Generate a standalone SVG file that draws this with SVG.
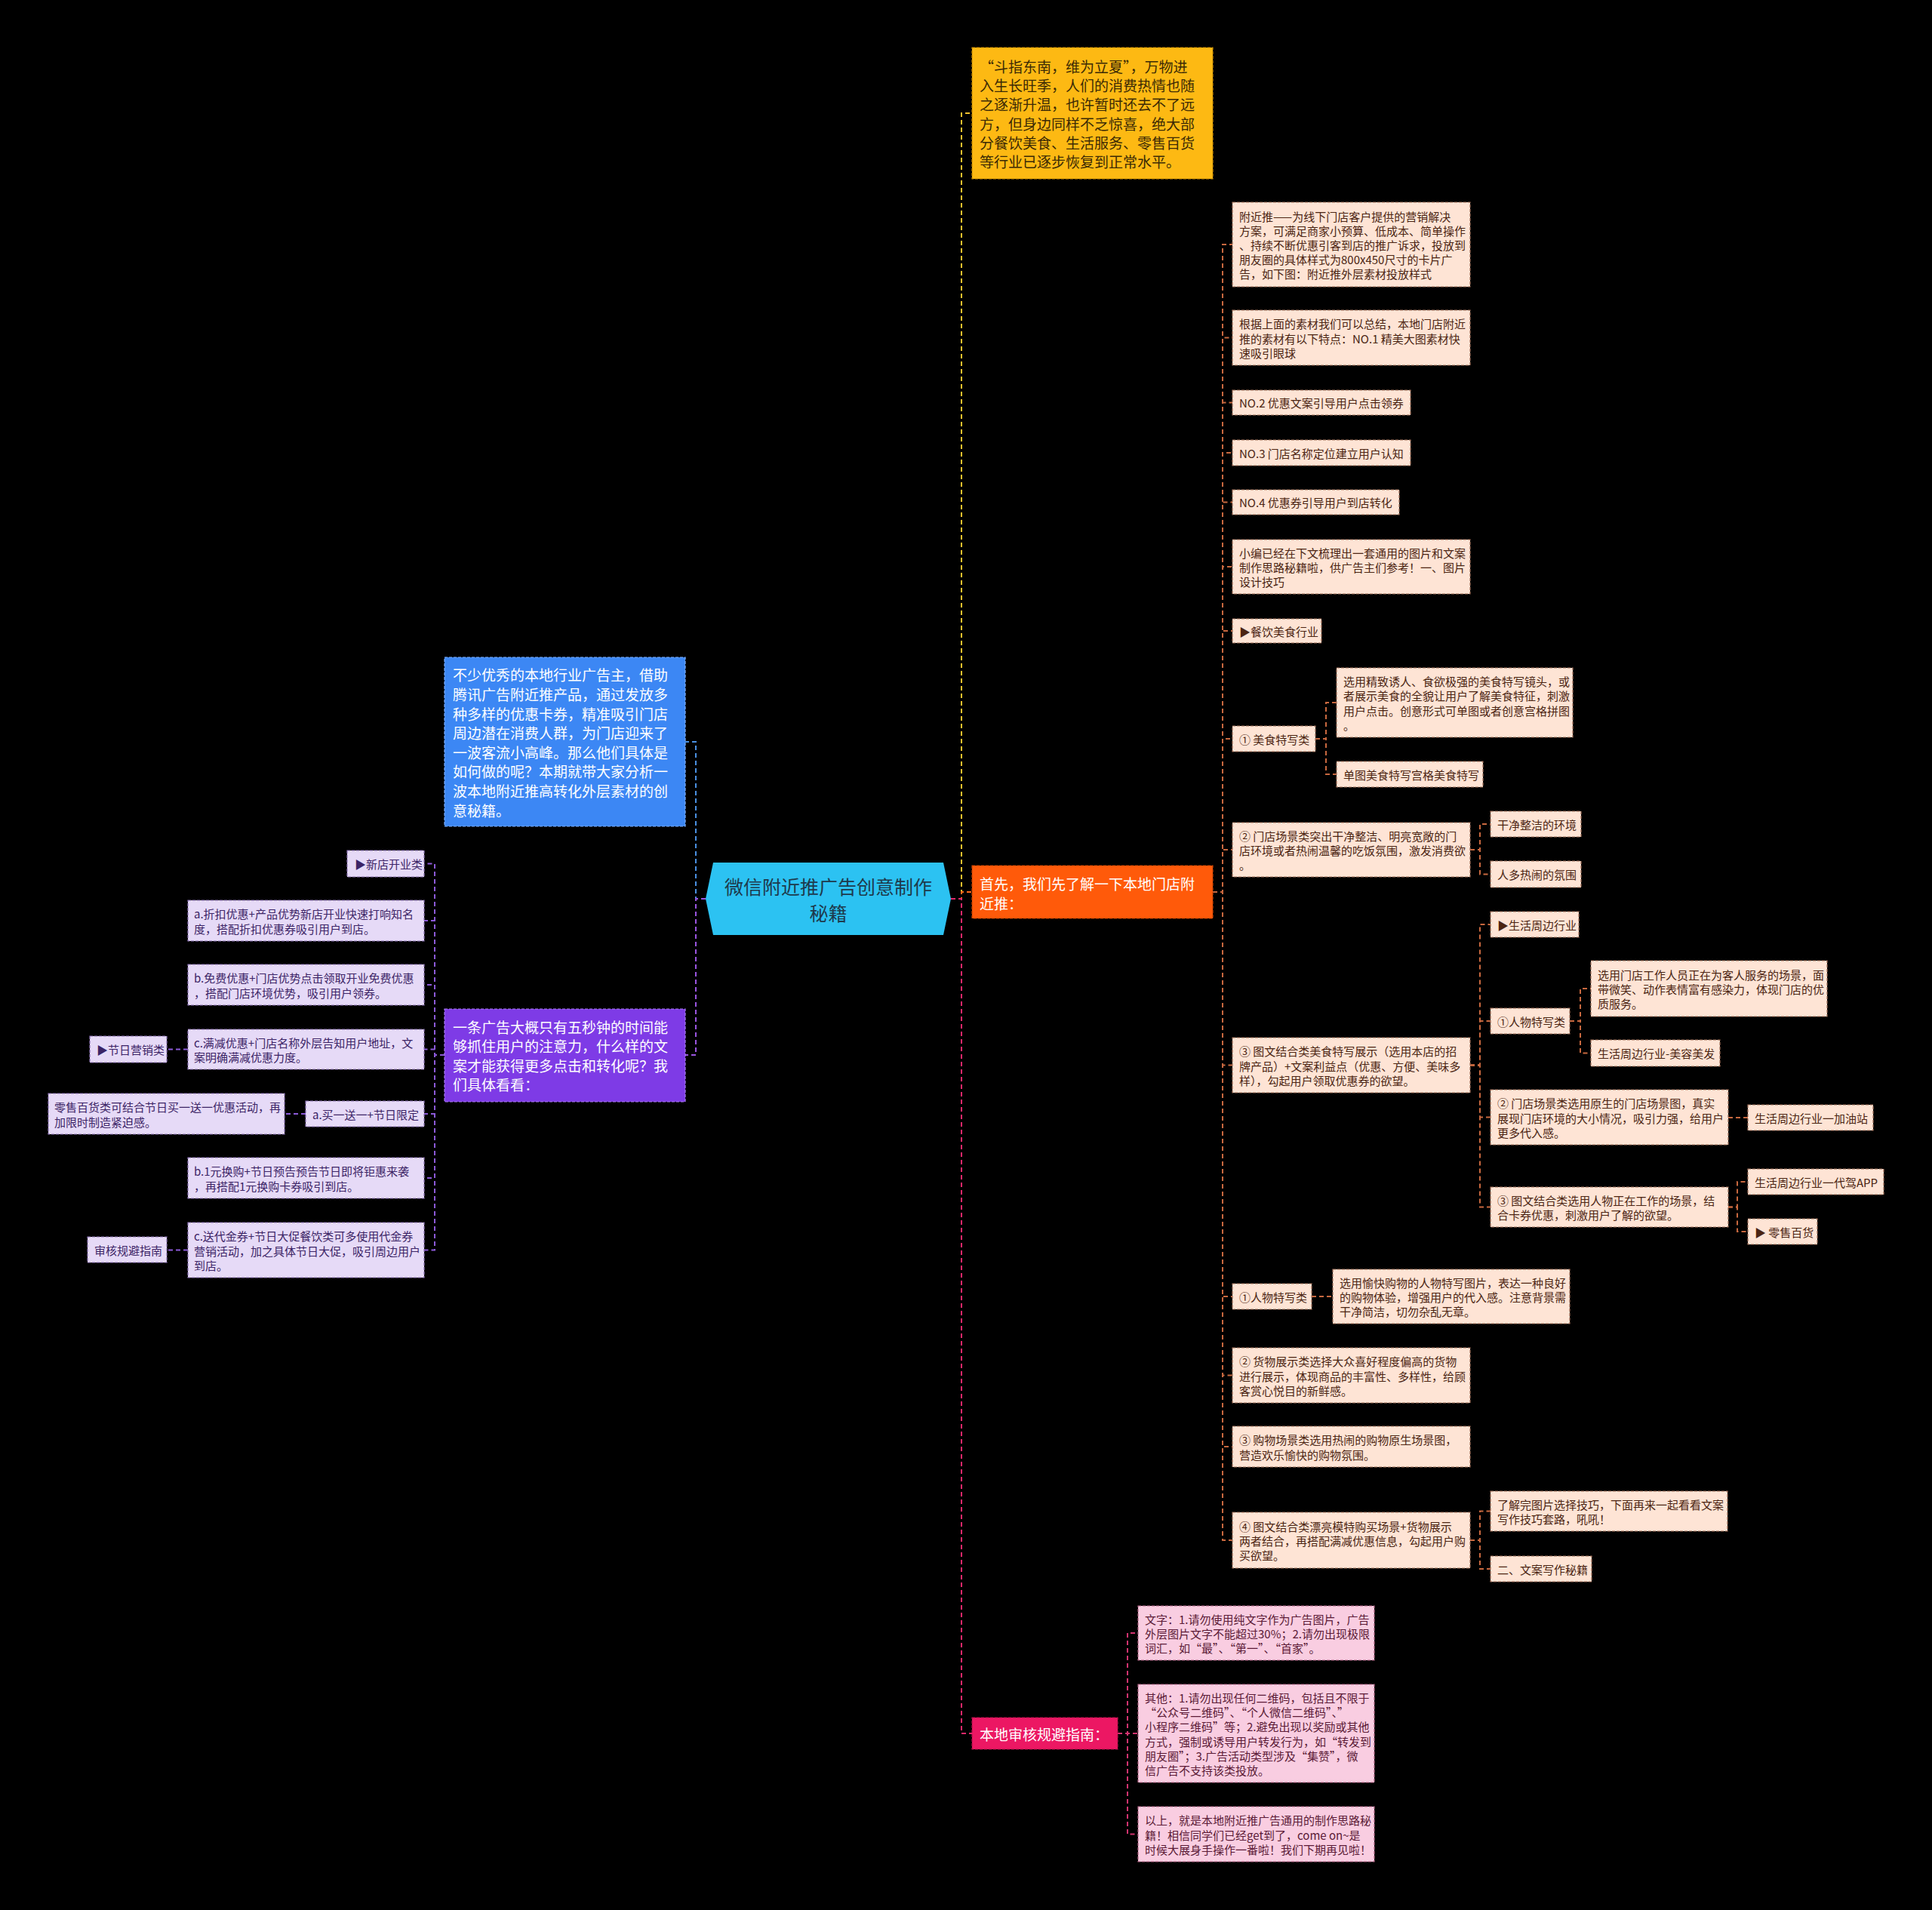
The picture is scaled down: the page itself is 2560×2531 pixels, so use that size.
<svg xmlns="http://www.w3.org/2000/svg" width="2560" height="2531" viewBox="0 0 2560 2531">
<style>
text{font-family:"Noto Sans CJK SC","Microsoft YaHei","Noto Sans",sans-serif;dominant-baseline:central}
.big text{font-size:19px}
.sm text{font-size:15px}
.yl rect{fill:#FDB913;stroke:#C98C00;stroke-width:1.2;stroke-dasharray:4 2}
.yl text{fill:#3B2A05}
.or rect{fill:#FF5A0A;stroke:#C94200;stroke-width:1.2;stroke-dasharray:4 2}
.mg rect{fill:#EC1763;stroke:#B0104A;stroke-width:1.2;stroke-dasharray:4 2}
.bl rect{fill:#3C87F4;stroke:#7FB0FF;stroke-width:1.2;stroke-dasharray:4 2}
.pu rect{fill:#7E3BE6;stroke:#A97CF2;stroke-width:1.2;stroke-dasharray:4 2}
.wt text{fill:#FFFFFF}
.pk rect{fill:#FEE4D5;stroke:#A0705A;stroke-width:1.2;stroke-dasharray:4 2}
.pk text{fill:#4B2412}
.lp rect{fill:#F9CDE1;stroke:#B06384;stroke-width:1.2;stroke-dasharray:4 2}
.lp text{fill:#5B1A36}
.lv rect{fill:#E6DAF7;stroke:#8B72B4;stroke-width:1.2;stroke-dasharray:4 2}
.lv text{fill:#3C2466}
#connectors path{fill:none;stroke-width:2;stroke-dasharray:6 4}
.cy{stroke:#F2C12E}
.co{stroke:#FF6A1A}
.cm{stroke:#E0286A}
.cb{stroke:#4A90E2}
.cp{stroke:#9A55E0}
.cob{stroke:#C8683F}
.clp{stroke:#D2336F}
.clv{stroke:#8C5AD8}
</style>
<rect x="0" y="0" width="2560" height="2531" fill="#000000"/>

<g id="connectors">
<path class="cy" d="M1260 1191 H1274 V150 H1288"/>
<path class="co" d="M1260 1191 H1274 V1182 H1288"/>
<path class="cm" d="M1260 1191 H1274 V2297 H1288"/>
<path class="cb" d="M935 1191 H922 V983 H908"/>
<path class="cp" d="M935 1191 H922 V1398 H908"/>

<path class="cob" d="M1607 1182 H1620 V324 H1633"/>
<path class="cob" d="M1607 1182 H1620 V447.5 H1633"/>
<path class="cob" d="M1607 1182 H1620 V533.5 H1633"/>
<path class="cob" d="M1607 1182 H1620 V600 H1633"/>
<path class="cob" d="M1607 1182 H1620 V665.5 H1633"/>
<path class="cob" d="M1607 1182 H1620 V751 H1633"/>
<path class="cob" d="M1607 1182 H1620 V836 H1633"/>
<path class="cob" d="M1607 1182 H1620 V979 H1633"/>
<path class="cob" d="M1607 1182 H1620 V1126 H1633"/>
<path class="cob" d="M1607 1182 H1620 V1411.5 H1633"/>
<path class="cob" d="M1607 1182 H1620 V1718 H1633"/>
<path class="cob" d="M1607 1182 H1620 V1822.5 H1633"/>
<path class="cob" d="M1607 1182 H1620 V1917 H1633"/>
<path class="cob" d="M1607 1182 H1620 V2041 H1633"/>

<path class="cob" d="M1743 979 H1757 V931 H1771"/>
<path class="cob" d="M1743 979 H1757 V1026 H1771"/>
<path class="cob" d="M1948 1126 H1961 V1092 H1975"/>
<path class="cob" d="M1948 1126 H1961 V1158.5 H1975"/>
<path class="cob" d="M1948 1411.5 H1961 V1225 H1975"/>
<path class="cob" d="M1948 1411.5 H1961 V1353 H1975"/>
<path class="cob" d="M1948 1411.5 H1961 V1480.5 H1975"/>
<path class="cob" d="M1948 1411.5 H1961 V1599.5 H1975"/>
<path class="cob" d="M2080 1353 H2094 V1310 H2108"/>
<path class="cob" d="M2080 1353 H2094 V1395.5 H2108"/>
<path class="cob" d="M2290 1481 H2316"/>
<path class="cob" d="M2290 1599.5 H2302 V1566 H2316"/>
<path class="cob" d="M2290 1599.5 H2302 V1632 H2316"/>
<path class="cob" d="M1738 1718 H1766"/>
<path class="cob" d="M1948 2041 H1961 V2002.5 H1975"/>
<path class="cob" d="M1948 2041 H1961 V2079 H1975"/>

<path class="clp" d="M1481 2297 H1494 V2164 H1508"/>
<path class="clp" d="M1481 2297 H1508"/>
<path class="clp" d="M1481 2297 H1494 V2430.5 H1508"/>

<path class="clv" d="M589 1398 H576 V1144.5 H562"/>
<path class="clv" d="M589 1398 H576 V1220 H562"/>
<path class="clv" d="M589 1398 H576 V1305 H562"/>
<path class="clv" d="M589 1398 H576 V1390.5 H562"/>
<path class="clv" d="M589 1398 H576 V1476 H562"/>
<path class="clv" d="M589 1398 H576 V1561 H562"/>
<path class="clv" d="M589 1398 H576 V1656.5 H562"/>
<path class="clv" d="M249 1390.5 H221"/>
<path class="clv" d="M405 1476 H377"/>
<path class="clv" d="M249 1656.5 H221"/>
</g>

<g id="center">
<polygon points="945,1143 1250,1143 1260,1191 1250,1239 945,1239 935,1191" fill="#2CC2F2"/>
<text x="1097.5" y="1174" font-size="25" fill="#1E3A4C" text-anchor="middle">微信附近推广告创意制作</text>
<text x="1097.5" y="1209" font-size="25" fill="#1E3A4C" text-anchor="middle">秘籍</text>
</g>

<g id="n-intro" class="big yl">
<rect x="1288" y="63" width="319" height="174"/>
<text><tspan x="1298" y="87">“斗指东南，维为立夏”，万物进</tspan><tspan x="1298" y="112">入生长旺季，人们的消费热情也随</tspan><tspan x="1298" y="137">之逐渐升温，也许暂时还去不了远</tspan><tspan x="1298" y="163">方，但身边同样不乏惊喜，绝大部</tspan><tspan x="1298" y="188">分餐饮美食、生活服务、零售百货</tspan><tspan x="1298" y="213">等行业已逐步恢复到正常水平。</tspan></text>
</g>

<g id="n-first" class="big or wt">
<rect x="1288" y="1147" width="319" height="70"/>
<text><tspan x="1298" y="1169.5">首先，我们先了解一下本地门店附</tspan><tspan x="1298" y="1195.5">近推：</tspan></text>
</g>

<g id="n-guide" class="big mg wt">
<rect x="1288" y="2276" width="193" height="42"/>
<text x="1298" y="2297">本地审核规避指南：</text>
</g>

<g id="n-blue" class="big bl wt">
<rect x="589" y="871" width="319" height="224"/>
<text><tspan x="600" y="893.4">不少优秀的本地行业广告主，借助</tspan><tspan x="600" y="919">腾讯广告附近推产品，通过发放多</tspan><tspan x="600" y="944.6">种多样的优惠卡券，精准吸引门店</tspan><tspan x="600" y="970.2">周边潜在消费人群，为门店迎来了</tspan><tspan x="600" y="995.8">一波客流小高峰。那么他们具体是</tspan><tspan x="600" y="1021.4">如何做的呢？本期就带大家分析一</tspan><tspan x="600" y="1047">波本地附近推高转化外层素材的创</tspan><tspan x="600" y="1072.6">意秘籍。</tspan></text>
</g>

<g id="n-purple" class="big pu wt">
<rect x="589" y="1337" width="319" height="123"/>
<text><tspan x="600" y="1359.6">一条广告大概只有五秒钟的时间能</tspan><tspan x="600" y="1385.2">够抓住用户的注意力，什么样的文</tspan><tspan x="600" y="1410.8">案才能获得更多点击和转化呢？我</tspan><tspan x="600" y="1436.4">们具体看看：</tspan></text>
</g>

<g id="o1" class="sm pk"><rect x="1633" y="268" width="315" height="112"/>
<text><tspan x="1642" y="285.6">附近推——为线下门店客户提供的营销解决</tspan><tspan x="1642" y="304.8">方案，可满足商家小预算、低成本、简单操作</tspan><tspan x="1642" y="324">、持续不断优惠引客到店的推广诉求，投放到</tspan><tspan x="1642" y="343.2">朋友圈的具体样式为800x450尺寸的卡片广</tspan><tspan x="1642" y="362.4">告，如下图：附近推外层素材投放样式</tspan></text></g>
<g id="o2" class="sm pk"><rect x="1633" y="411" width="315" height="73"/>
<text><tspan x="1642" y="428.3">根据上面的素材我们可以总结，本地门店附近</tspan><tspan x="1642" y="447.5">推的素材有以下特点：NO.1 精美大图素材快</tspan><tspan x="1642" y="466.7">速吸引眼球</tspan></text></g>
<g id="o3" class="sm pk"><rect x="1633" y="517" width="236" height="33"/><text x="1642" y="533.5">NO.2 优惠文案引导用户点击领券</text></g>
<g id="o4" class="sm pk"><rect x="1633" y="583" width="236" height="34"/><text x="1642" y="600">NO.3 门店名称定位建立用户认知</text></g>
<g id="o5" class="sm pk"><rect x="1633" y="649" width="221" height="33"/><text x="1642" y="665.5">NO.4 优惠券引导用户到店转化</text></g>
<g id="o6" class="sm pk"><rect x="1633" y="715" width="315" height="72"/>
<text><tspan x="1642" y="731.8">小编已经在下文梳理出一套通用的图片和文案</tspan><tspan x="1642" y="751">制作思路秘籍啦，供广告主们参考！一、图片</tspan><tspan x="1642" y="770.2">设计技巧</tspan></text></g>
<g id="o7" class="sm pk"><rect x="1633" y="820" width="118" height="32"/><text x="1642" y="836">▶餐饮美食行业</text></g>
<g id="o8" class="sm pk"><rect x="1633" y="962" width="110" height="34"/><text x="1642" y="979">① 美食特写类</text></g>
<g id="o8a" class="sm pk"><rect x="1771" y="885" width="313" height="92"/>
<text><tspan x="1780" y="902.2">选用精致诱人、食欲极强的美食特写镜头，或</tspan><tspan x="1780" y="921.4">者展示美食的全貌让用户了解美食特征，刺激</tspan><tspan x="1780" y="940.6">用户点击。创意形式可单图或者创意宫格拼图</tspan><tspan x="1780" y="959.8">。</tspan></text></g>
<g id="o8b" class="sm pk"><rect x="1771" y="1009" width="194" height="34"/><text x="1780" y="1026">单图美食特写宫格美食特写</text></g>
<g id="o9" class="sm pk"><rect x="1633" y="1090" width="315" height="72"/>
<text><tspan x="1642" y="1106.8">② 门店场景类突出干净整洁、明亮宽敞的门</tspan><tspan x="1642" y="1126">店环境或者热闹温馨的吃饭氛围，激发消费欲</tspan><tspan x="1642" y="1145.2">。</tspan></text></g>
<g id="o9a" class="sm pk"><rect x="1975" y="1075" width="120" height="34"/><text x="1984" y="1092">干净整洁的环境</text></g>
<g id="o9b" class="sm pk"><rect x="1975" y="1141" width="120" height="35"/><text x="1984" y="1158.5">人多热闹的氛围</text></g>
<g id="o10" class="sm pk"><rect x="1633" y="1375" width="315" height="73"/>
<text><tspan x="1642" y="1392.3">③ 图文结合类美食特写展示（选用本店的招</tspan><tspan x="1642" y="1411.5">牌产品）+文案利益点（优惠、方便、美味多</tspan><tspan x="1642" y="1430.7">样），勾起用户领取优惠券的欲望。</tspan></text></g>
<g id="o10a" class="sm pk"><rect x="1975" y="1208" width="117" height="34"/><text x="1984" y="1225">▶生活周边行业</text></g>
<g id="o10b" class="sm pk"><rect x="1975" y="1336" width="105" height="34"/><text x="1984" y="1353">①人物特写类</text></g>
<g id="o10b1" class="sm pk"><rect x="2108" y="1273" width="313" height="74"/>
<text><tspan x="2117" y="1290.8">选用门店工作人员正在为客人服务的场景，面</tspan><tspan x="2117" y="1310">带微笑、动作表情富有感染力，体现门店的优</tspan><tspan x="2117" y="1329.2">质服务。</tspan></text></g>
<g id="o10b2" class="sm pk"><rect x="2108" y="1378" width="171" height="35"/><text x="2117" y="1395.5">生活周边行业-美容美发</text></g>
<g id="o10c" class="sm pk"><rect x="1975" y="1444" width="315" height="73"/>
<text><tspan x="1984" y="1461.3">② 门店场景类选用原生的门店场景图，真实</tspan><tspan x="1984" y="1480.5">展现门店环境的大小情况，吸引力强，给用户</tspan><tspan x="1984" y="1499.7">更多代入感。</tspan></text></g>
<g id="o10c1" class="sm pk"><rect x="2316" y="1464" width="166" height="34"/><text x="2325" y="1481">生活周边行业一加油站</text></g>
<g id="o10d" class="sm pk"><rect x="1975" y="1573" width="315" height="53"/>
<text><tspan x="1984" y="1589.9">③ 图文结合类选用人物正在工作的场景，结</tspan><tspan x="1984" y="1609.1">合卡券优惠，刺激用户了解的欲望。</tspan></text></g>
<g id="o10d1" class="sm pk"><rect x="2316" y="1549" width="180" height="34"/><text x="2325" y="1566">生活周边行业一代驾APP</text></g>
<g id="o10d2" class="sm pk"><rect x="2316" y="1615" width="92" height="34"/><text x="2325" y="1632">▶ 零售百货</text></g>
<g id="o11" class="sm pk"><rect x="1633" y="1701" width="105" height="34"/><text x="1642" y="1718">①人物特写类</text></g>
<g id="o11a" class="sm pk"><rect x="1766" y="1682" width="314" height="72"/>
<text><tspan x="1775" y="1698.8">选用愉快购物的人物特写图片，表达一种良好</tspan><tspan x="1775" y="1718">的购物体验，增强用户的代入感。注意背景需</tspan><tspan x="1775" y="1737.2">干净简洁，切勿杂乱无章。</tspan></text></g>
<g id="o12" class="sm pk"><rect x="1633" y="1786" width="315" height="73"/>
<text><tspan x="1642" y="1803.3">② 货物展示类选择大众喜好程度偏高的货物</tspan><tspan x="1642" y="1822.5">进行展示，体现商品的丰富性、多样性，给顾</tspan><tspan x="1642" y="1841.7">客赏心悦目的新鲜感。</tspan></text></g>
<g id="o13" class="sm pk"><rect x="1633" y="1890" width="315" height="54"/>
<text><tspan x="1642" y="1907.4">③ 购物场景类选用热闹的购物原生场景图，</tspan><tspan x="1642" y="1926.6">营造欢乐愉快的购物氛围。</tspan></text></g>
<g id="o14" class="sm pk"><rect x="1633" y="2004" width="315" height="74"/>
<text><tspan x="1642" y="2021.8">④ 图文结合类漂亮模特购买场景+货物展示</tspan><tspan x="1642" y="2041">两者结合，再搭配满减优惠信息，勾起用户购</tspan><tspan x="1642" y="2060.2">买欲望。</tspan></text></g>
<g id="o14a" class="sm pk"><rect x="1975" y="1976" width="314" height="53"/>
<text><tspan x="1984" y="1992.9">了解完图片选择技巧，下面再来一起看看文案</tspan><tspan x="1984" y="2012.1">写作技巧套路，吼吼！</tspan></text></g>
<g id="o14b" class="sm pk"><rect x="1975" y="2062" width="134" height="34"/><text x="1984" y="2079">二、文案写作秘籍</text></g>

<g id="m1" class="sm lp"><rect x="1508" y="2128" width="313" height="72"/>
<text><tspan x="1517" y="2144.8">文字：1.请勿使用纯文字作为广告图片，广告</tspan><tspan x="1517" y="2164">外层图片文字不能超过30%；2.请勿出现极限</tspan><tspan x="1517" y="2183.2">词汇，如“最”、“第一”、“首家”。</tspan></text></g>
<g id="m2" class="sm lp"><rect x="1508" y="2232" width="313" height="130"/>
<text><tspan x="1517" y="2249">其他：1.请勿出现任何二维码，包括且不限于</tspan><tspan x="1517" y="2268.2">“公众号二维码”、“个人微信二维码”、”</tspan><tspan x="1517" y="2287.4">小程序二维码”等；2.避免出现以奖励或其他</tspan><tspan x="1517" y="2306.6">方式，强制或诱导用户转发行为，如“转发到</tspan><tspan x="1517" y="2325.8">朋友圈”；3.广告活动类型涉及“集赞”，微</tspan><tspan x="1517" y="2345">信广告不支持该类投放。</tspan></text></g>
<g id="m3" class="sm lp"><rect x="1508" y="2394" width="313" height="73"/>
<text><tspan x="1517" y="2411.3">以上，就是本地附近推广告通用的制作思路秘</tspan><tspan x="1517" y="2430.5">籍！相信同学们已经get到了，come on~是</tspan><tspan x="1517" y="2449.7">时候大展身手操作一番啦！我们下期再见啦！</tspan></text></g>

<g id="p1" class="sm lv"><rect x="460" y="1127" width="102" height="35"/><text x="470" y="1144.5">▶新店开业类</text></g>
<g id="p2" class="sm lv"><rect x="249" y="1193" width="313" height="54"/>
<text><tspan x="257" y="1210.4">a.折扣优惠+产品优势新店开业快速打响知名</tspan><tspan x="257" y="1229.6">度，搭配折扣优惠券吸引用户到店。</tspan></text></g>
<g id="p3" class="sm lv"><rect x="249" y="1278" width="313" height="54"/>
<text><tspan x="257" y="1295.4">b.免费优惠+门店优势点击领取开业免费优惠</tspan><tspan x="257" y="1314.6">，搭配门店环境优势，吸引用户领券。</tspan></text></g>
<g id="p4" class="sm lv"><rect x="249" y="1364" width="313" height="53"/>
<text><tspan x="257" y="1380.9">c.满减优惠+门店名称外层告知用户地址，文</tspan><tspan x="257" y="1400.1">案明确满减优惠力度。</tspan></text></g>
<g id="p4a" class="sm lv"><rect x="119" y="1373" width="102" height="35"/><text x="128" y="1390.5">▶节日营销类</text></g>
<g id="p5" class="sm lv"><rect x="405" y="1459" width="157" height="34"/><text x="414" y="1476">a.买一送一+节日限定</text></g>
<g id="p5a" class="sm lv"><rect x="64" y="1449" width="313" height="54"/>
<text><tspan x="72" y="1466.4">零售百货类可结合节日买一送一优惠活动，再</tspan><tspan x="72" y="1485.6">加限时制造紧迫感。</tspan></text></g>
<g id="p6" class="sm lv"><rect x="249" y="1534" width="313" height="54"/>
<text><tspan x="257" y="1551.4">b.1元换购+节日预告预告节日即将钜惠来袭</tspan><tspan x="257" y="1570.6">，再搭配1元换购卡券吸引到店。</tspan></text></g>
<g id="p7" class="sm lv"><rect x="249" y="1620" width="313" height="73"/>
<text><tspan x="257" y="1637.3">c.送代金券+节日大促餐饮类可多使用代金券</tspan><tspan x="257" y="1656.5">营销活动，加之具体节日大促，吸引周边用户</tspan><tspan x="257" y="1675.7">到店。</tspan></text></g>
<g id="p7a" class="sm lv"><rect x="116" y="1639" width="105" height="34"/><text x="125" y="1656">审核规避指南</text></g>
</svg>
